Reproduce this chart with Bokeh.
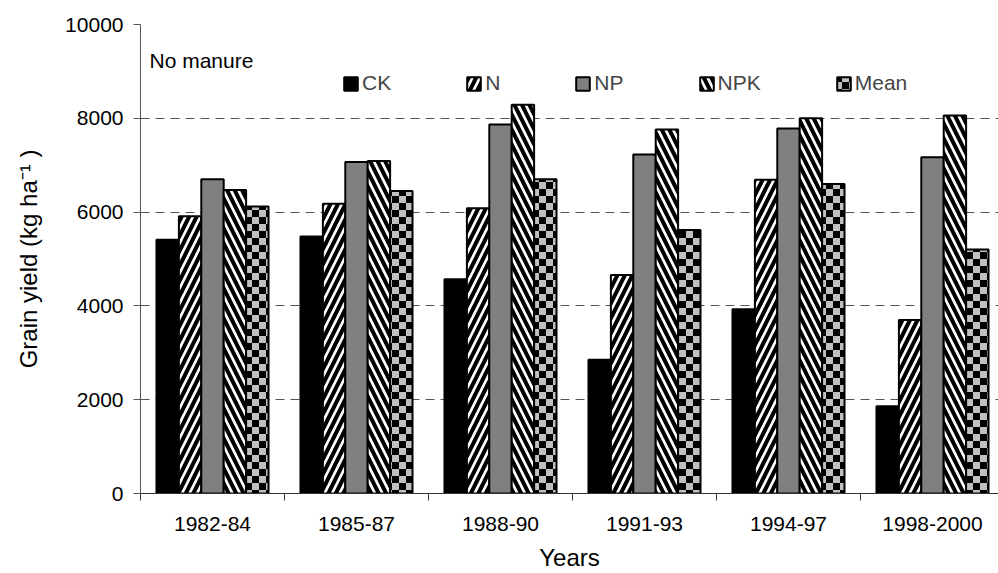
import base64
import numpy as np
from bokeh.plotting import figure
from bokeh.core.properties import value
from bokeh.models import (FixedTicker, Legend, LegendItem, Label, ImageURLTexture, Range1d)
from bokeh.embed import file_html
from bokeh.resources import INLINE

# ---- data ----
periods = ["1982-84", "1985-87", "1988-90", "1991-93", "1994-97", "1998-2000"]
ck = [5410, 5480, 4570, 2850, 3930, 1860]
n_only = [5910, 6180, 6080, 4660, 6690, 3700]
np_ = [6700, 7070, 7870, 7230, 7780, 7170]
npk = [6470, 7090, 8290, 7760, 8000, 8060]
mean = [6120, 6450, 6700, 5620, 6600, 5200]
series_names = ["CK", "N", "NP", "NPK", "Mean"]
series_values = [ck, n_only, np_, npk, mean]
y_ticks = [0, 2000, 4000, 6000, 8000, 10000]

FONT = "Liberation Sans"
FS = "21px"
FS_TITLE = "24px"

p = figure(width=998, height=573, output_backend="svg", toolbar_location=None,
           x_range=Range1d(0, 858 / 144), y_range=Range1d(0, 10000),
           min_border_left=140, min_border_right=0, min_border_top=24, min_border_bottom=80)
p.outline_line_color = None
p.background_fill_color = "white"

checker_svg = ('<svg xmlns="http://www.w3.org/2000/svg" width="14" height="14">'
               '<rect width="14" height="14" fill="#c0c0c0"/>'
               '<rect width="7" height="7" fill="#000000"/>'
               '<rect x="7" y="7" width="7" height="7" fill="#000000"/></svg>')
checker = ImageURLTexture(url="data:image/svg+xml;base64," + base64.b64encode(checker_svg.encode()).decode(),
                          repetition="repeat")

styles = [
    dict(fill_color="black"),
    dict(fill_color="white", hatch_pattern="/", hatch_color="black", hatch_weight=4, hatch_scale=15),
    dict(fill_color="#808080"),
    dict(fill_color="white", hatch_pattern="\\", hatch_color="black", hatch_weight=4, hatch_scale=15),
    dict(fill_color="#c0c0c0", hatch_pattern=value("checker"), hatch_extra={"checker": checker},
         hatch_color="black", hatch_scale=14),
]

bar_w = 0.1556
idx = np.arange(len(periods))
items = []
for k, (name, vals, st) in enumerate(zip(series_names, series_values, styles)):
    xs = idx + 0.5 + (k - 2) * bar_w
    r = p.vbar(x=xs, top=vals, width=bar_w, bottom=0, line_color="black", line_width=2, **st)
    items.append(LegendItem(label=name, renderers=[r]))

legend = Legend(items=items, orientation="horizontal", location=(202, 398), padding=0, margin=0,
                spacing=74, glyph_width=17, glyph_height=17, label_standoff=3, label_height=17,
                label_width=1, label_text_font=FONT, label_text_font_size=FS,
                background_fill_alpha=0, border_line_color=None)
p.add_layout(legend)

p.add_layout(Label(x=0.0625, y=9232, text="No manure", text_font=FONT, text_font_size=FS,
                   text_baseline="alphabetic", text_color="black"))

# y axis
yt = FixedTicker(ticks=y_ticks, minor_ticks=[])
p.yaxis.ticker = yt
p.ygrid.ticker = yt
p.yaxis.major_tick_out = 7
p.yaxis.major_tick_in = 0
p.yaxis.minor_tick_line_color = None
p.yaxis.major_label_standoff = 10
p.yaxis.axis_label = "Grain yield (kg ha\u207b\u00b9 )"
p.yaxis.axis_label_standoff = 20
p.yaxis.axis_line_color = "#555555"
p.yaxis.major_tick_line_color = "#555555"

# x axis
xt = FixedTicker(ticks=[float(i) + 0.5 for i in idx], minor_ticks=[float(i) for i in range(len(periods) + 1)])
p.xaxis.ticker = xt
p.xaxis.major_label_overrides = {float(i) + 0.5: lab for i, lab in enumerate(periods)}
p.xaxis.major_tick_line_color = None
p.xaxis.major_tick_out = 0
p.xaxis.major_tick_in = 0
p.xaxis.minor_tick_out = 7
p.xaxis.minor_tick_in = 0
p.xaxis.minor_tick_line_color = "#333333"
p.xaxis.axis_line_color = "#333333"
p.xaxis.major_label_standoff = 16
p.xaxis.axis_label = "Years"
p.xaxis.axis_label_standoff = 10

for ax in (p.xaxis, p.yaxis):
    ax.major_label_text_font = FONT
    ax.major_label_text_font_size = FS
    ax.major_label_text_color = "black"
    ax.axis_label_text_font = FONT
    ax.axis_label_text_font_size = FS_TITLE
    ax.axis_label_text_font_style = "normal"
    ax.axis_label_text_color = "black"

p.xgrid.visible = False
p.ygrid.grid_line_dash = "9 6"
p.ygrid.grid_line_color = "#555555"
p.ygrid.grid_line_width = 1

open("out.html", "w").write(file_html(p, INLINE))
